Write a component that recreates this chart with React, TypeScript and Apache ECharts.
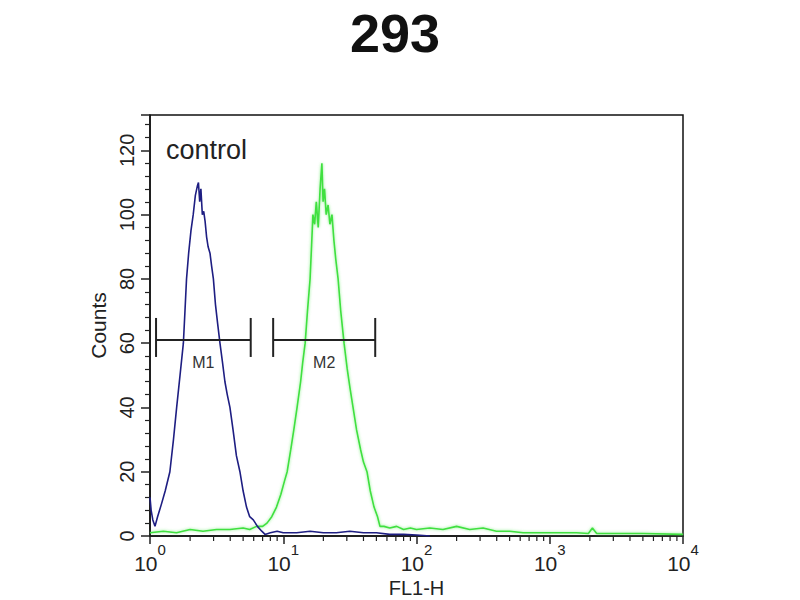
import React, { useEffect, useRef } from 'react';
import * as echarts from 'echarts';

const chartTitle = '293';
const xAxisName = 'FL1-H';
const yAxisName = 'Counts';
const annotationText = 'control';

// control (blue) histogram: FL1-H value, counts
const blueX = [1.0, 1.02, 1.05, 1.09, 1.14, 1.22, 1.3, 1.41, 1.5, 1.585, 1.68, 1.78, 1.83, 1.88, 1.95, 2.03, 2.11, 2.19, 2.27, 2.31, 2.36, 2.41, 2.47, 2.53, 2.59, 2.66, 2.73, 2.82, 2.9, 2.99, 3.1, 3.22, 3.35, 3.5, 3.65, 3.8, 3.98, 4.2, 4.45, 4.73, 5.0, 5.3, 5.6, 5.96, 6.4, 6.9, 7.3, 8, 9, 10, 12.6, 15.9, 20, 25, 31.6, 40, 50, 63, 80, 100, 126];
const blueY = [12, 8, 5, 3, 6, 10, 14, 20, 30, 40, 50, 60, 70, 80, 88, 95, 100, 106, 109, 110, 104, 108, 100, 101, 98, 93, 90, 88, 84, 80, 72, 66, 60, 54, 48, 44, 40, 33, 25, 20, 14, 9, 6, 5, 3, 1.5, 0.5, 1, 1.5, 1, 1, 1.5, 1, 1, 1.5, 1, 1, 0.5, 0.5, 0.3, 0];

// sample (green) histogram: FL1-H value, counts
const greenX = [1, 1.26, 1.58, 2.0, 2.5, 3.16, 3.98, 5.0, 5.6, 6.3, 7.0, 7.55, 8.2, 8.9, 9.6, 10.2, 10.7, 11.4, 12.0, 12.7, 13.5, 14.0, 14.6, 15.2, 15.9, 16.3, 16.7, 17.2, 17.7, 18.3, 18.9, 19.5, 19.9, 20.4, 21.0, 21.7, 22.4, 23.2, 24.0, 24.8, 25.8, 27.0, 28.6, 30.2, 31.7, 33.4, 35.5, 38.0, 40.0, 42.5, 45, 48, 51, 53.2, 57, 63, 71, 80, 90, 100, 126, 158, 200, 251, 316, 398, 501, 631, 794, 1000, 1585, 1950, 2090, 2250, 3162, 5012, 10000];
const greenY = [1, 1.5, 1, 2, 1.5, 2, 2, 2.5, 2, 3, 3, 4, 6, 9, 13, 17, 20, 27, 33, 40, 48, 54, 60, 70, 80, 90, 100, 97, 104, 96, 108, 116, 104, 108, 100, 103, 97, 100, 92, 86, 80, 70, 60, 52, 46, 40, 33, 27, 23, 20, 14, 9, 6, 3, 3, 2.5, 3, 2, 2.5, 2, 2.5, 2, 3, 2, 2.5, 1.5, 1.5, 1, 1, 1, 1, 0.8, 2.5, 0.8, 0.8, 0.8, 0.5];

// gate markers
const markerNames = ['M1', 'M2'];
const markerStart = [1.11, 8.4];
const markerEnd = [5.7, 49];
const markerLevel = [61, 61];

// log-axis minor tick values
const xMinorTicks = [2, 3, 4, 5, 6, 7, 8, 9, 20, 30, 40, 50, 60, 70, 80, 90, 200, 300, 400, 500, 600, 700, 800, 900, 2000, 3000, 4000, 5000, 6000, 7000, 8000, 9000];

const FONT = '"Liberation Sans", Arial, sans-serif';

export default function App() {
  const ref = useRef<HTMLDivElement>(null);
  useEffect(() => {
    if (!ref.current) return;
    const chart = echarts.init(ref.current, null, { renderer: 'svg' });
    const blueData = blueX.map((x, i) => [x, blueY[i]]);
    const greenData = greenX.map((x, i) => [x, greenY[i]]);
    const markerData = markerNames.map((_, i) => [markerStart[i], markerLevel[i], markerEnd[i]]);
    const option: any = {
      animation: false,
      backgroundColor: '#ffffff',
      title: {
        text: chartTitle,
        left: 345,
        top: 1,
        textStyle: { fontSize: 54, fontWeight: 'bold', color: '#111', fontFamily: FONT },
      },
      grid: {
        left: 150,
        right: 117,
        top: 115,
        bottom: 64,
        containLabel: false,
        outerBoundsMode: 'none',
        show: true,
        borderColor: '#111',
        borderWidth: 1.5,
        backgroundColor: 'transparent',
      },
      xAxis: {
        type: 'log',
        logBase: 10,
        min: 1,
        max: 10000,
        name: xAxisName,
        nameLocation: 'middle',
        nameGap: 34,
        nameTextStyle: { fontSize: 20, color: '#222', fontFamily: FONT },
        axisLine: { lineStyle: { color: '#111', width: 1.5 } },
        axisTick: { length: 8, lineStyle: { color: '#222', width: 1.5 } },
        splitLine: { show: false },
        axisLabel: {
          margin: 6,
          color: '#222',
          fontFamily: FONT,
          formatter: (v: number) => '{b|10}{s|' + Math.round(Math.log10(v)) + '}',
          rich: {
            b: { fontSize: 21, lineHeight: 42, fontFamily: FONT, color: '#222' },
            s: { fontSize: 15, lineHeight: 15, verticalAlign: 'top', fontFamily: FONT, color: '#222' },
          },
        },
      },
      yAxis: {
        type: 'value',
        min: 0,
        max: 131,
        interval: 20,
        name: yAxisName,
        nameLocation: 'middle',
        nameGap: 30,
        nameRotate: 90,
        nameTextStyle: { fontSize: 21, color: '#222', fontFamily: FONT },
        axisLine: { show: true, lineStyle: { color: '#111', width: 1.5 } },
        axisTick: { show: true, length: 9, lineStyle: { color: '#222', width: 1.5 } },
        minorTick: { show: true, splitNumber: 5, length: 5, lineStyle: { color: '#222', width: 1.2 } },
        splitLine: { show: false },
        axisLabel: {
          rotate: 90,
          margin: 13,
          fontSize: 20,
          color: '#222',
          fontFamily: FONT,
          showMaxLabel: false,
        },
      },
      graphic: [
        {
          type: 'text',
          left: 166,
          top: 136,
          style: { text: annotationText, font: '27px ' + FONT, fill: '#222' },
        },
      ],
      series: [
        {
          name: 'sample',
          type: 'line',
          data: greenData,
          showSymbol: false,
          symbol: 'none',
          lineStyle: { color: '#3fe03f', width: 1.6, shadowColor: 'rgba(110,235,110,0.8)', shadowBlur: 3 },
          z: 2,
        },
        {
          name: 'control',
          type: 'line',
          data: blueData,
          showSymbol: false,
          symbol: 'none',
          lineStyle: { color: '#1e1e82', width: 1.6 },
          z: 3,
        },
        {
          name: 'markers',
          type: 'custom',
          clip: false,
          encode: { x: [0, 2], y: 1 },
          data: markerData,
          z: 4,
          renderItem: (params: any, api: any) => {
            const y = api.value(1);
            const p1 = api.coord([api.value(0), y]);
            const p2 = api.coord([api.value(2), y]);
            const st = { stroke: '#222', lineWidth: 2 };
            return {
              type: 'group',
              children: [
                { type: 'line', shape: { x1: p1[0], y1: p1[1], x2: p2[0], y2: p2[1] }, style: st },
                { type: 'line', shape: { x1: p1[0], y1: p1[1] - 22, x2: p1[0], y2: p1[1] + 17 }, style: st },
                { type: 'line', shape: { x1: p2[0], y1: p2[1] - 22, x2: p2[0], y2: p2[1] + 17 }, style: st },
                {
                  type: 'text',
                  style: {
                    text: markerNames[params.dataIndex],
                    x: (p1[0] + p2[0]) / 2,
                    y: p1[1] + 23,
                    align: 'center',
                    verticalAlign: 'middle',
                    font: '16px ' + FONT,
                    fill: '#333',
                  },
                },
              ],
            };
          },
        },
        {
          name: 'minorTicks',
          type: 'custom',
          clip: false,
          encode: { x: 0, y: 1 },
          data: xMinorTicks.map((v) => [v, 0]),
          z: 4,
          renderItem: (params: any, api: any) => {
            const p = api.coord([api.value(0), 0]);
            return {
              type: 'line',
              shape: { x1: p[0], y1: p[1], x2: p[0], y2: p[1] + 5 },
              style: { stroke: '#222', lineWidth: 1.2 },
            };
          },
        },
      ],
    };
    chart.setOption(option);
    return () => chart.dispose();
  }, []);
  return (
    <div
      ref={ref}
      style={{ position: 'fixed', left: 0, top: 0, width: 800, height: 600, background: '#fff' }}
    />
  );
}
